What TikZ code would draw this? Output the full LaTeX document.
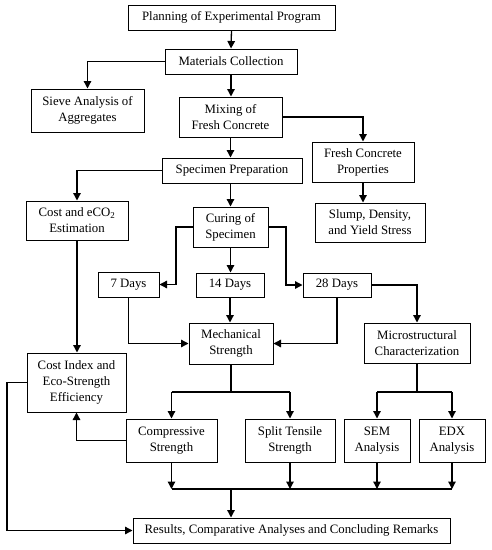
\documentclass[tikz,border=0pt]{standalone}
\usepackage{fontspec}
\setmainfont{Liberation Serif}
\usetikzlibrary{arrows.meta}
\begin{document}
\begin{tikzpicture}[x=1pt,y=-1pt,
  box/.style={draw,line width=1pt,inner sep=0pt,align=center,font=\fontsize{12.8}{16}\selectfont},
  conn/.style={line width=1.3pt},
  arr/.style={conn,-{Triangle[length=7.5pt,width=7.5pt]}}]
\useasboundingbox (0,0) rectangle (492,550);
\newcommand\bx[6]{\node[box,minimum width=#4,minimum height=#5] (#1) at (#2,#3) {#6};}
\bx{plan}{231.5}{17.5}{207}{25}{Planning of Experimental Program}
\bx{mat}{231}{61.5}{132}{25}{Materials Collection}
\bx{sieve}{87.5}{110.5}{113}{43}{Sieve Analysis of\\Aggregates}
\bx{mix}{230.5}{117}{103}{40}{Mixing of\\Fresh Concrete}
\bx{fresh}{363}{162}{102}{40}{Fresh Concrete\\Properties}
\bx{spec}{232}{170.5}{140}{25}{Specimen Preparation}
\bx{cost}{77}{220.5}{102}{39}{Cost and eCO\textsubscript{2}\\Estimation}
\bx{cur}{230.5}{227}{75}{40}{Curing of\\Specimen}
\bx{slump}{370}{222.5}{110}{39}{Slump, Density,\\and Yield Stress}
\bx{d7}{128.5}{284.5}{61}{25}{7 Days}
\bx{d14}{230}{285}{68}{24}{14 Days}
\bx{d28}{337}{285}{68}{24}{28 Days}
\bx{mech}{231}{343.5}{84}{41}{Mechanical\\Strength}
\bx{micro}{417}{343}{106}{40}{Microstructural\\Characterization}
\bx{ci}{76.5}{382.5}{99}{59}{Cost Index and\\Eco-Strength\\Efficiency}
\bx{comp}{171.5}{440.5}{91}{43}{Compressive\\Strength}
\bx{split}{290}{440.5}{90}{43}{Split Tensile\\Strength}
\bx{sem}{377}{440.5}{66}{43}{SEM\\Analysis}
\bx{edx}{452}{440.5}{66}{43}{EDX\\Analysis}
\bx{res}{291.5}{530.5}{317}{25}{Results, Comparative Analyses and Concluding Remarks}
% connectors
\draw[arr] (plan.south) -- (mat.north);
\draw[arr] (mat.west) -| (sieve.north);
\draw[arr] (mat.south) -- (mat.south |- mix.north);
\draw[arr] (mix.east) -| (fresh.north);
\draw[arr] (mix.south) -- (mix.south |- spec.north);
\draw[arr] (spec.west) -| (cost.north);
\draw[arr] (spec.south -| cur.north) -- (cur.north);
\draw[arr] (fresh.south) -- (fresh.south |- slump.north);
\coordinate (cl) at (176,227);
\coordinate (cr) at (286,227);
\draw[arr] (cur.west) -- (cl) |- (d7.east);
\draw[arr] (cur.east) -- (cr) |- (d28.west);
\draw[arr] (cur.south) -- (cur.south |- d14.north);
\draw[arr] (d7.south) |- (mech.west);
\draw[arr] (d14.south) -- (d14.south |- mech.north);
\draw[arr] (d28.south) |- (mech.east);
\draw[arr] (d28.east) -| (micro.north);
\draw[arr] (cost.south) -- (cost.south |- ci.north);
\draw[arr] (comp.west) -| (ci.south);
\coordinate (lb) at (7,382.5);
\draw[arr] (ci.west) -- (lb) |- (res.west);
% mechanical branch
\coordinate (mb) at (231,392);
\draw[conn] (mech.south) -- (mb);
\draw[conn] (comp.north |- mb) -- (split.north |- mb);
\draw[arr] (comp.north |- mb) -- (comp.north);
\draw[arr] (split.north |- mb) -- (split.north);
% micro branch
\coordinate (ub) at (417,392);
\draw[conn] (micro.south) -- (ub);
\draw[conn] (sem.north |- ub) -- (edx.north |- ub);
\draw[arr] (sem.north |- ub) -- (sem.north);
\draw[arr] (edx.north |- ub) -- (edx.north);
% collector
\coordinate (rb) at (231,489);
\draw[conn] (comp.south |- rb) -- (edx.south |- rb);
\draw[arr] (comp.south) -- (comp.south |- rb);
\draw[arr] (split.south) -- (split.south |- rb);
\draw[arr] (sem.south) -- (sem.south |- rb);
\draw[arr] (edx.south) -- (edx.south |- rb);
\draw[arr] (rb) -- (rb |- res.north);
\end{tikzpicture}
\end{document}
